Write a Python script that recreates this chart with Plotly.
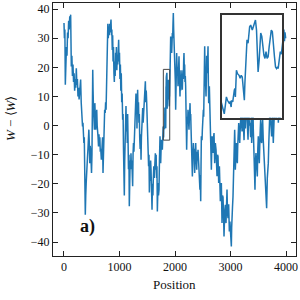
import plotly.graph_objects as go

# ---- data ----
POS_A = [0, 8, 16, 24, 34, 44, 54, 64, 74, 84, 94, 104, 114, 120, 128, 132, 142, 152, 162, 172,
         182, 192, 202, 212, 222, 232, 242, 252, 262, 272, 282, 292, 300, 310, 318, 326, 334, 342, 350, 358,
         366, 374, 384, 392, 400, 408, 416, 424, 432, 440, 448, 456, 464, 472, 480, 488, 496, 504, 512, 518,
         524, 532, 540, 548, 556, 564, 572, 580, 590, 598, 606, 614, 622, 630, 638, 646, 654, 662, 673, 681,
         688, 695, 703, 712, 722, 733, 742, 750, 758, 766, 772, 781]
W_A = [35.2, 30, 33, 14.0, 22, 27, 24, 32, 30, 36, 33, 37.5, 35, 38.1, 29, 20.3, 24, 17, 21, 15,
       18, 12, 16, 13, 19.7, 14, 16, 10.0, 13, 9, 11, 13, 15.8, 8, 2.0, 4, -0.3, 1, -1.4, -6.0,
       -4, -15.2, -30.6, -24, -19.7, -13, -17, -10.6, -8, -2.6, -1.4, -6, -12.9, -7, -8.3, -12, -16.3, -10, 0, 19.2,
       12, 5.4, 2, -1.4, 7.7, 3, -1.4, 2, 5.4, 0, -1.4, -4, -7.2, -3, -7.2, -4, -9, -8, -11.7, -7,
       -9, -4, -16.3, -6, 2, 5.4, 4.3, 8, 5.4, 13.5, 25, 34.1]

POS_B = [790, 798, 806, 814, 822, 830, 838, 847, 855, 862, 870, 877, 884, 892, 900, 907, 914, 922, 930, 937,
         944, 952, 960, 968, 976, 985, 992, 1000, 1008, 1016, 1024, 1032, 1040, 1048, 1057, 1065, 1072, 1080, 1087, 1094,
         1102, 1110, 1117, 1124, 1132, 1140, 1147, 1154, 1162, 1170, 1177, 1184, 1192, 1200, 1207, 1214, 1222, 1230, 1237, 1244,
         1252, 1260, 1267, 1274, 1282, 1290, 1297, 1304, 1310, 1315, 1321, 1327, 1334, 1342, 1350, 1357, 1364, 1372, 1380, 1388,
         1395, 1403, 1410, 1418, 1426, 1433, 1440, 1448, 1456, 1466, 1474, 1482, 1490, 1498, 1508, 1516, 1524, 1531, 1538, 1546,
         1553, 1561, 1568, 1576, 1586, 1594, 1602, 1610, 1618, 1626, 1634, 1646]
W_B = [35, 30, 34, 31, 35, 32, 34, 36.4, 31, 33, 26, 31, 22, 27, 18, 15, 22, 17, 25, 20,
       27, 19, 24, 21, 26, 29.5, 22, 25, 16, 21, 12, 18, 8, 11, 2, 4, -8, -15, -24, -12,
       -3, 2, 6.7, -2, 3, -6, 4, -5, -15, -10, -27.7, -18, -12, -15, -9.5, -14, -12, -17, -20.8, -10,
       -6, -9, -3.6, 2, 5, 8, 11, 4, 7, -1, 6, 12.3, 5, 8, 1, 4, -4, -8, -3, -11.7,
       -4, 2, -1, 6, 1, 4, 9, 7.7, 11, 15.2, 8, 12, 8, 2, -1.4, -8, -14, -10, -23, -16,
       -19, -12, -15, -21, -28.9, -20, -24, -18, -14, -18, -11, -9.5]

POS_C = [1652, 1660, 1668, 1675, 1682, 1688, 1694, 1703, 1712, 1720, 1730, 1736, 1742, 1748, 1754, 1762, 1772, 1780, 1787]
W_C = [-15.2, -10, -18, -14, -29.5, -22, -19.7, -24, -22, -12, -3.7, -8, -12.9, -7, -4.9, -6, -8.3, -3, -0.3]

# detailed stretch shown in the inset
POS_D = [1795, 1797, 1799, 1801, 1804, 1806, 1808, 1809, 1811, 1814, 1815, 1816, 1818, 1820, 1823, 1825, 1827, 1829, 1831, 1833,
         1834, 1836, 1838, 1840, 1842, 1843, 1845, 1848, 1850, 1852, 1854, 1856, 1858, 1859, 1861, 1863, 1864, 1866, 1868, 1870,
         1872, 1874, 1876, 1878, 1880, 1882, 1884, 1886, 1887, 1888, 1890, 1892, 1894, 1896, 1897, 1899, 1901, 1903]
W_D = [-4.1, -2.5, -0.1, -0.9, -1.5, -1.3, -2.5, -0.9, -1.3, 1.5, 1.9, -0.1, 6.2, 5.4, 5.0, 4.3, 5.0, 4.6, 2.3, -0.9,
       3.1, 7.8, 13.4, 12.6, 15.0, 16.5, 16.9, 15.7, 16.5, 17.3, 18.1, 15.7, 8.6, 5.8, 8.6, 12.6, 15.0, 14.2, 11.8, 9.8,
       9.0, 10.6, 9.0, 9.4, 11.8, 14.2, 15.7, 15.3, 13.4, 11.8, 9.4, 7.0, 6.6, 7.0, 6.6, 8.6, 10.6, 10.0]

POS_E = [1910, 1916, 1922, 1928, 1934, 1940, 1946, 1952, 1958, 1964, 1970, 1976, 1982, 1988, 1994, 2000, 2006, 2012, 2018, 2024,
         2030, 2036, 2042, 2048, 2054, 2060, 2066, 2072, 2078, 2084, 2090, 2096, 2102, 2108, 2114, 2120, 2126, 2132, 2138, 2144,
         2150, 2156, 2162, 2168, 2174, 2180, 2186, 2192, 2198, 2204, 2210, 2216, 2222, 2228, 2234, 2240, 2246, 2252, 2258, 2264,
         2271, 2277, 2283, 2289, 2295, 2301, 2307, 2313, 2319, 2325, 2331, 2337, 2343, 2349, 2355, 2361, 2367, 2373, 2379, 2385,
         2391, 2397, 2403, 2409, 2415, 2421, 2427, 2433, 2441, 2449, 2455, 2463, 2469, 2475, 2481, 2487, 2493, 2499, 2505, 2511,
         2517, 2523, 2529, 2535, 2541, 2547, 2553, 2559, 2565, 2571, 2577, 2583, 2589, 2595, 2601, 2607, 2613, 2619, 2625, 2631,
         2637, 2643, 2649, 2655]
W_E = [16, 24, 30.6, 26, 29, 24.9, 28, 31.8, 30, 35, 38.7, 33, 29, 32, 27.2, 22, 15, 5.4, 14, 19,
       24.9, 21, 17, 20, 13.5, 18, 16, 23.8, 18, 14, 10.0, 15, 12, 19, 18.0, 15, 17, 12.3, 17, 19,
       16, 22, 24.9, 19, 21, 15, 17, 13.5, 6, 0, -8.3, -2, 3, 1, 5.4, 0, 3, -1.4, 2, 5,
       7.7, 2, 4, -1, -3.7, -8, -12, -17.5, -12, -9, -6.0, -10, -8, -13, -16.3, -11, -9, -6.0, -10, -12,
       -15.2, -11, -9, -12, -8.3, -11, -13, -15.2, -18, -22, -17, -26.0, -14, -3.7, -7, -5, -1.4, 2, 0, 5.4,
       3, 13.5, 18, 27.2, 20, 15, 12, 10, 16, 24, 20, 18, 22, 27.2, 15, 7.7, 10, 13.5, 6, 2,
       -2.6, -6, -9, -15.2]

POS_F = [2667, 2676, 2685, 2694, 2703, 2715, 2727, 2739, 2748, 2757, 2766, 2775, 2787, 2800, 2817, 2826, 2835, 2847, 2856, 2865,
         2874, 2883, 2895, 2907, 2919, 2928, 2937, 2946, 2955, 2967, 2979, 2990, 3005, 3015, 3021, 3027, 3036, 3045, 3051, 3057,
         3066, 3075, 3081, 3087, 3096, 3105, 3114, 3123, 3130, 3136, 3142, 3148, 3157, 3166, 3173, 3180, 3188, 3196, 3208, 3220,
         3232, 3244, 3256, 3268, 3280, 3292, 3304, 3316, 3328, 3340]
W_F = [-3.7, -6, -9.4, -4, -2.6, -12.9, -6, -8.3, -12, -17.4, -10, -10.6, -19.7, -14, -26, -20, -19.7, -33.5, -24, -24.6,
       -30, -38.1, -30, -27.2, -33.5, -28, -22, -30, -31.8, -27, -36.4, -33, -38, -41.5, -35, -33.5, -28, -24.4, -20, -17.5,
       -8, -1.4, -6, -15.2, -8, -6, -11, -12.9, -7, -4, -2, 0.9, -3, -6, -2, 0, 4, 2, -2, 5,
       -3, -5, 4, -1, 10, 3, -2, -4.9, 6, 0]

POS_G = [3351, 3363, 3375, 3381, 3393, 3405, 3411, 3423, 3435, 3441, 3450, 3459, 3471, 3483, 3492, 3501, 3510, 3519, 3531, 3543,
         3552, 3561, 3570, 3579, 3590, 3603, 3612, 3621, 3636, 3651, 3663, 3681, 3690, 3699, 3711, 3723, 3732, 3741, 3756, 3771,
         3783, 3795, 3810, 3820, 3835, 3850, 3862, 3875, 3892, 3905, 3920, 3934, 3944, 3952, 3962, 3972, 3982, 3994]
W_G = [1, -4, 3, -6, -2, 5, -1.4, -8, -14, -22, -12, -9.4, -14, -17.5, -8, -3.7, -8, -12.9, -4, 2,
       -5, -6, 0, 2, -5, -9.4, -12, -15.2, -20, -28.4, -18, -12.9, -6, -1.4, 6, 2, -3, -3.7, 3, -6,
       0.9, 8, 14, 2, 12, 20, 1, 15, 2, 18, 25, 19, 33, 28.3, 33, 29, 32, 30]

positions = POS_A + POS_B + POS_C + POS_D + POS_E + POS_F + POS_G
w_values = W_A + W_B + W_C + W_D + W_E + W_F + W_G

X_TICKS = [0, 1000, 2000, 3000, 4000]
Y_TICKS = [-40, -30, -20, -10, 0, 10, 20, 30, 40]
ZOOM_X = [1790, 1905]
ZOOM_Y = [-5.0, 19.3]

LINE_COLOR = "#1f77b4"
FONT = "Liberation Serif"

fig = go.Figure()
fig.add_trace(go.Scatter(x=positions, y=w_values, mode="lines",
                         line=dict(color=LINE_COLOR, width=1.5), xaxis="x", yaxis="y",
                         showlegend=False, hoverinfo="skip"))
fig.add_trace(go.Scatter(x=positions, y=w_values, mode="lines",
                         line=dict(color=LINE_COLOR, width=1.5), xaxis="x2", yaxis="y2",
                         showlegend=False, hoverinfo="skip"))

axis_common = dict(showline=True, linecolor="#222", linewidth=1, mirror="ticks",
                   ticks="inside", ticklen=5, tickwidth=1, tickcolor="#222",
                   showgrid=False, zeroline=False, automargin=False,
                   tickfont=dict(family=FONT, size=12, color="#111"))

fig.update_layout(
    width=300, height=300,
    margin=dict(l=53, r=4, t=3, b=44),
    paper_bgcolor="white", plot_bgcolor="white",
    xaxis=dict(range=[-198, 4180], tickvals=X_TICKS, domain=[0, 1], anchor="y", **axis_common),
    yaxis=dict(range=[-44.8, 42.1], tickvals=Y_TICKS, domain=[0, 1], anchor="x", **axis_common),
    xaxis2=dict(range=ZOOM_X, domain=[0.694, 0.944], anchor="y2", showline=True, mirror=True,
                linecolor="#333", linewidth=1.8, showticklabels=False, ticks="",
                showgrid=False, zeroline=False, automargin=False),
    yaxis2=dict(range=ZOOM_Y, domain=[0.547, 0.953], anchor="x2", showline=True, mirror=True,
                linecolor="#333", linewidth=1.8, showticklabels=False, ticks="",
                showgrid=False, zeroline=False, automargin=False),
    shapes=[dict(type="rect", xref="x", yref="y", x0=ZOOM_X[0], x1=ZOOM_X[1],
                 y0=ZOOM_Y[0], y1=ZOOM_Y[1], line=dict(color="#444", width=1),
                 fillcolor="rgba(0,0,0,0)", layer="above")],
    annotations=[
        dict(text="Position", xref="paper", yref="paper", x=0.5, y=-0.113,
             xanchor="center", yanchor="middle", showarrow=False,
             font=dict(family=FONT, size=13, color="#111")),
        dict(text="<i>W</i> − ⟨<i>W</i>⟩", xref="paper", yref="paper", x=-0.177, y=0.545,
             xanchor="center", yanchor="middle", textangle=-90, showarrow=False,
             font=dict(family=FONT, size=13, color="#111")),
        dict(text="<b>a)</b>", xref="paper", yref="paper", x=0.144, y=0.115,
             xanchor="center", yanchor="middle", showarrow=False,
             font=dict(family=FONT, size=18, color="#111")),
    ],
)

fig.write_html("out.html", config={"displayModeBar": False},
               post_script="document.body.style.margin='0';")
